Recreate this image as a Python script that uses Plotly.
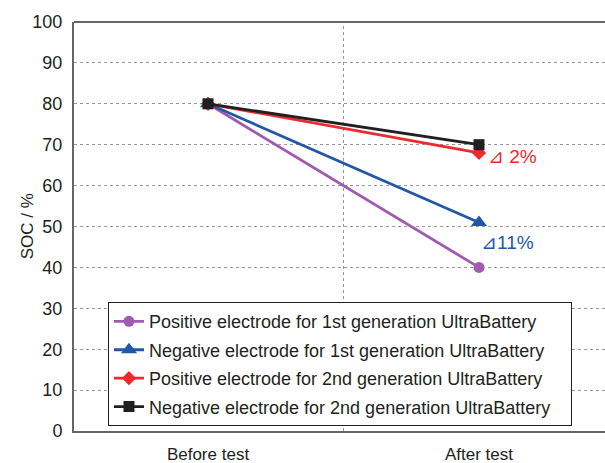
import plotly.graph_objects as go

categories = ["Before test", "After test"]
x_pos = [0, 1]
series_names = [
    "Positive electrode for 1st generation UltraBattery",
    "Negative electrode for 1st generation UltraBattery",
    "Positive electrode for 2nd generation UltraBattery",
    "Negative electrode for 2nd generation UltraBattery",
]
pos1 = [80, 40]
neg1 = [80, 51]
pos2 = [80, 68]
neg2 = [80, 70]
y_ticks = list(range(0, 101, 10))

colors = ["#A05BB0", "#2456A8", "#EE2A2E", "#231F20"]
symbols = ["circle", "triangle-up", "diamond", "square"]
sizes = [11, 14, 11, 11]

fig = go.Figure()
for i, (name, vals, c, s, sz) in enumerate(zip(series_names, [pos1, neg1, pos2, neg2], colors, symbols, sizes)):
    fig.add_trace(go.Scatter(x=x_pos, y=vals, mode="lines+markers", name=name + "\u00a0\u00a0\u00a0",
                             legendgroup=f"g{i}",
                             line=dict(color=c, width=2.8),
                             marker=dict(symbol=s, size=sz, color=c)))

fig.add_annotation(x=1, y=pos2[1], text="⊿ 2%", showarrow=False, xanchor="left",
                   xshift=7, yshift=-4, font=dict(color="#EE2A2E", size=19, family="Arial"))
fig.add_annotation(x=1, y=neg1[1], text="⊿11%", showarrow=False, xanchor="left",
                   xshift=0, yshift=-20, font=dict(color="#2456A8", size=19, family="Arial"))
fig.add_annotation(xref="paper", yref="paper", x=-0.087, y=0.5, text="SOC / %",
                   textangle=-90, showarrow=False, xanchor="center", yanchor="middle",
                   font=dict(size=17, family="Arial", color="#231F20"))

# vertical divider & top border
fig.add_shape(type="line", xref="x", yref="paper", x0=0.5, x1=0.5, y0=0, y1=1,
              line=dict(color="#999", width=1, dash="dot"), layer="below")
fig.add_shape(type="line", xref="paper", yref="paper", x0=0, x1=1, y0=1, y1=1,
              line=dict(color="#666", width=2))

fig.update_layout(
    width=605, height=463,
    margin=dict(l=74, r=0, t=22, b=32),
    plot_bgcolor="white", paper_bgcolor="white",
    font=dict(family="Arial", color="#231F20"),
    showlegend=True,
    legend=dict(x=0.064, y=0.315, xanchor="left", yanchor="top",
                bgcolor="white", bordercolor="#231F20", borderwidth=1,
                tracegroupgap=2,
                font=dict(size=18, family="Arial"), itemwidth=30),
    xaxis=dict(range=[-0.4945, 1.465], tickvals=x_pos, ticktext=categories,
               showgrid=False, zeroline=False, showline=True, linecolor="#666", linewidth=2,
               ticks="", tickfont=dict(size=17), ticklabelstandoff=7, automargin=False),
    yaxis=dict(range=[0, 100], tickvals=y_ticks, showgrid=True, griddash="dot",
               gridcolor="#999", gridwidth=1, zeroline=False, showline=True,
               linecolor="#666", linewidth=2, ticks="", tickfont=dict(size=18),
               ticklabelstandoff=6, automargin=False),
)

fig.write_html("out.html")
